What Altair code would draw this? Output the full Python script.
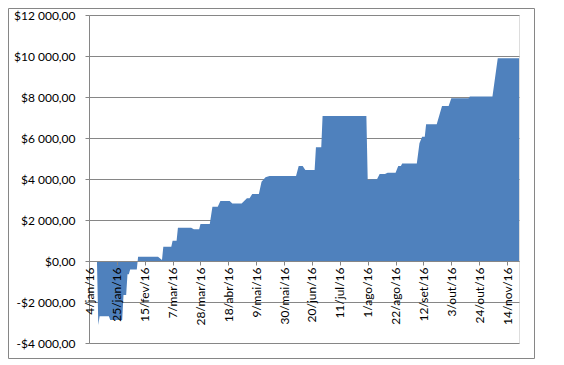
import altair as alt
import pandas as pd

# ---- data ----
dates = [
    "2016-01-04", "2016-01-10", "2016-01-11", "2016-01-12", "2016-01-19", "2016-01-20",
    "2016-01-29", "2016-01-30", "2016-02-01", "2016-02-02", "2016-02-03", "2016-02-04",
    "2016-02-09", "2016-02-10", "2016-02-25", "2016-02-28", "2016-02-29", "2016-03-06",
    "2016-03-07", "2016-03-10", "2016-03-11", "2016-03-21", "2016-03-23", "2016-03-27",
    "2016-03-28", "2016-04-04", "2016-04-06", "2016-04-10", "2016-04-12", "2016-04-19",
    "2016-04-21", "2016-04-28", "2016-05-02", "2016-05-04", "2016-05-06", "2016-05-11",
    "2016-05-13", "2016-05-16", "2016-05-19", "2016-06-08", "2016-06-10", "2016-06-13",
    "2016-06-15", "2016-06-22", "2016-06-23", "2016-06-27", "2016-06-28", "2016-07-31",
    "2016-08-01", "2016-08-04", "2016-08-08", "2016-08-10", "2016-08-14", "2016-08-16",
    "2016-08-22", "2016-08-24", "2016-08-26", "2016-08-27", "2016-09-07", "2016-09-09",
    "2016-09-11", "2016-09-13", "2016-09-14", "2016-09-22", "2016-09-26", "2016-10-01",
    "2016-10-03", "2016-10-16", "2016-10-17", "2016-11-03", "2016-11-07", "2016-11-23",
]
values = [
    0, 0, -3120, -2700, -2700, -2880,
    -2880, -1660, -1660, -650, -650, -420,
    -420, 210, 210, 50, 700, 700,
    990, 990, 1620, 1620, 1545, 1545,
    1800, 1800, 2650, 2650, 2930, 2930,
    2810, 2810, 3060, 3060, 3270, 3270,
    3870, 4080, 4150, 4150, 4630, 4630,
    4440, 4440, 5550, 5550, 7070, 7070,
    3950, 3990, 3990, 4240, 4240, 4310,
    4310, 4630, 4630, 4760, 4760, 5740,
    6060, 6060, 6670, 6670, 7560, 7560,
    7940, 7940, 8020, 8020, 9890, 9890,
]

x_tick_dates = [
    "2016-01-04", "2016-01-25", "2016-02-15", "2016-03-07", "2016-03-28", "2016-04-18",
    "2016-05-09", "2016-05-30", "2016-06-20", "2016-07-11", "2016-08-01", "2016-08-22",
    "2016-09-12", "2016-10-03", "2016-10-24", "2016-11-14",
]
month_abbr = ["jan", "fev", "mar", "abr", "mai", "jun", "jul", "ago", "set", "out", "nov", "dez"]
y_ticks = [-4000, -2000, 0, 2000, 4000, 6000, 8000, 10000, 12000]
x_domain = ["2016-01-04", "2016-11-23"]


def ms(d):
    return int(pd.Timestamp(d, tz="UTC").value // 10**6)


df = pd.DataFrame({"t": [ms(d) for d in dates], "v": values})

month_arr = "[" + ",".join("'%s'" % m for m in month_abbr) + "]"
x_label_expr = ("utcdate(datum.value) + '/' + " + month_arr +
                "[utcmonth(datum.value)] + '/' + (utcyear(datum.value) % 100)")
y_label_expr = ("(datum.value < 0 ? '-$' : '$') + "
                "replace(replace(format(abs(datum.value), ',.2f'), ',', ' '), '.', ',')")

GREY = "#868686"
FONT = "Lato"

area = alt.Chart(df).mark_area(color="#4F81BD", opacity=1, interpolate="linear").encode(
    x=alt.X(
        "t:Q",
        scale=alt.Scale(domain=[ms(d) for d in x_domain], nice=False, zero=False),
        axis=alt.Axis(
            values=[ms(d) for d in x_tick_dates],
            labelExpr=x_label_expr,
            title=None,
            offset=-82,
            grid=False,
            zindex=1,
            labelAngle=270,
            labelFont=FONT,
            labelFontSize=12,
            labelColor="#000000",
            labelPadding=2,
            tickSize=4,
            tickColor=GREY,
            domainColor=GREY,
            labelOverlap=False,
            labelFlush=False,
        ),
    ),
    y=alt.Y(
        "v:Q",
        stack=None,
        scale=alt.Scale(domain=[-4000, 12000], nice=False),
        axis=alt.Axis(
            values=y_ticks,
            labelExpr=y_label_expr,
            title=None,
            grid=True,
            gridColor=GREY,
            gridOpacity=1,
            domainColor=GREY,
            tickColor=GREY,
            tickSize=4,
            labelFont=FONT,
            labelFontSize=12,
            labelColor="#000000",
            labelPadding=10,
            labelOverlap=False,
            labelFlush=False,
        ),
    ),
    y2=alt.datum(0),
)

frame = alt.Chart(alt.Data(values=[{"k": 1}])).mark_rect(
    fill=None, stroke=GREY, strokeWidth=1
).encode(
    x=alt.value(-80.5), x2=alt.value(445.5), y=alt.value(-6.5), y2=alt.value(343.5)
)

chart = alt.layer(area, frame).properties(
    width=430,
    height=328,
    autosize=alt.AutoSizeParams(type="none"),
    padding={"left": 81, "top": 7, "right": 16, "bottom": 16},
).configure_view(stroke=None).configure(background="white")

chart.save("out.html", embed_options={"renderer": "svg", "actions": False})
